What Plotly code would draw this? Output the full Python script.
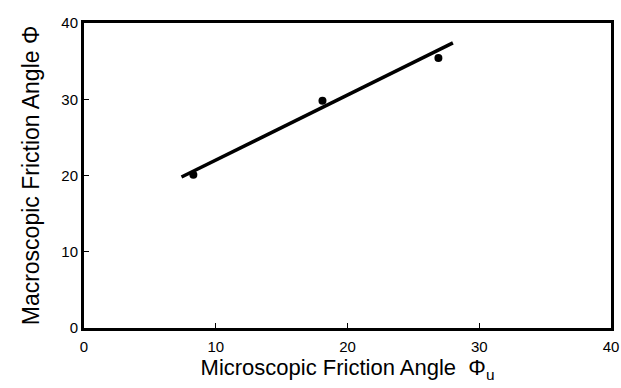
import plotly.graph_objects as go

# data
micro_angle = [8.3, 18.1, 26.9]
macro_angle = [20.1, 29.8, 35.4]
fit_x = [7.4, 28.0]
fit_y = [19.8, 37.4]
x_ticks = [0, 10, 20, 30, 40]
y_ticks = [0, 10, 20, 30, 40]

fig = go.Figure()
fig.add_trace(go.Scatter(x=fit_x, y=fit_y, mode="lines",
                         line=dict(color="black", width=3.5), showlegend=False))
fig.add_trace(go.Scatter(x=micro_angle, y=macro_angle, mode="markers",
                         marker=dict(color="black", size=8), showlegend=False))

font = "Liberation Sans, Arial, sans-serif"
fig.update_layout(
    width=621, height=388, autosize=False,
    margin=dict(l=84, r=10, t=23, b=60),
    paper_bgcolor="white", plot_bgcolor="white",
    font=dict(family=font, color="black"),
)
fig.update_xaxes(range=[0, 40], tickvals=x_ticks, showgrid=False, zeroline=False,
                 showline=True, linecolor="black", linewidth=3, mirror=True,
                 ticks="inside", ticklen=5, tickwidth=1, tickcolor="black",
                 tickfont=dict(size=15), ticklabelstandoff=3, automargin=False,
                 title=dict(text="Microscopic Friction Angle  Φ<sub>u</sub>",
                            font=dict(size=22), standoff=0))
fig.update_yaxes(range=[0, 40], tickvals=y_ticks, showgrid=False, zeroline=False,
                 showline=True, linecolor="black", linewidth=3, mirror=True,
                 ticks="inside", ticklen=5, tickwidth=1, tickcolor="black",
                 tickfont=dict(size=15), automargin=False,
                 title=dict(text="Macroscopic Friction Angle Φ",
                            font=dict(size=23), standoff=16))

fig.write_html("out.html")
